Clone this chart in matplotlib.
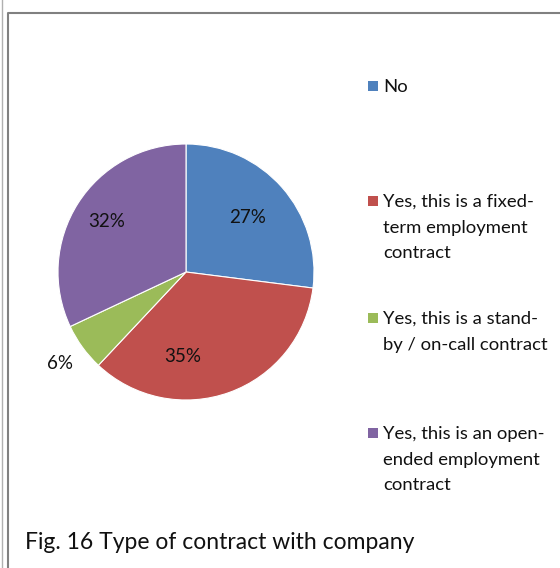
import matplotlib.pyplot as plt
from matplotlib.lines import Line2D
from matplotlib.patches import Rectangle
import numpy as np

plt.rcParams['font.family'] = ['Lato', 'DejaVu Sans']

# data
categories = ["No",
              "Yes, this is a fixed-\nterm employment\ncontract",
              "Yes, this is a stand-\nby / on-call contract",
              "Yes, this is an open-\nended employment\ncontract"]
shares = [27, 35, 6, 32]
pct_labels = ["27%", "35%", "6%", "32%"]
colors = ["#4F81BD", "#C0504D", "#9BBB59", "#8064A2"]
caption = "Fig. 16 Type of contract with company"

W, H = 560, 568
fig = plt.figure(figsize=(W / 100, H / 100), dpi=100)

# pie axes: centre (186, 272), radius ~128 px
cx, cy, r = 186, 272, 128
ax = fig.add_axes([(cx - r) / W, 1 - (cy + r) / H, 2 * r / W, 2 * r / H])
wedges, _ = ax.pie(shares, colors=colors, startangle=90, counterclock=False,
                   wedgeprops=dict(edgecolor="white", linewidth=0.8))
ax.set_xlim(-1, 1)
ax.set_ylim(-1, 1)
ax.set_aspect("auto")

# label placement (radius factor, angle offset in degrees) per slice
label_r = [0.64, 0.66, 1.22, 0.73]
label_shift = [0, -22, 0, 0]
for w, lab, lr, sh in zip(wedges, pct_labels, label_r, label_shift):
    mid = np.deg2rad((w.theta1 + w.theta2) / 2 + sh)
    ax.text(lr * np.cos(mid), lr * np.sin(mid), lab, ha="center", va="center",
            fontsize=13.5, color="#111111", clip_on=False)

# legend drawn by hand to mimic the spacing
legend_y = [86, 201, 318, 433]
for lab, col, y in zip(categories, colors, legend_y):
    fig.patches.append(Rectangle((368 / W, 1 - (y + 5) / H), 10 / W, 10 / H,
                                 transform=fig.transFigure, facecolor=col,
                                 edgecolor="none"))
    fig.text(383 / W, 1 - (y - 7) / H, lab, ha="left", va="top", fontsize=13.3,
             linespacing=1.74, color="#111111")

fig.text(25 / W, 1 - 549 / H, caption, ha="left", va="baseline", fontsize=16.5,
         color="#111111")

# frame lines
fig.lines.append(Line2D([1.5 / W, 1.5 / W], [0, 1], transform=fig.transFigure,
                        color="#b0b0b0", linewidth=1))
fig.lines.append(Line2D([7.5 / W, 7.5 / W, 1], [0, 1 - 12.5 / H, 1 - 12.5 / H],
                        transform=fig.transFigure, color="#808080", linewidth=1.5))

fig.savefig("out.png", dpi=100)
